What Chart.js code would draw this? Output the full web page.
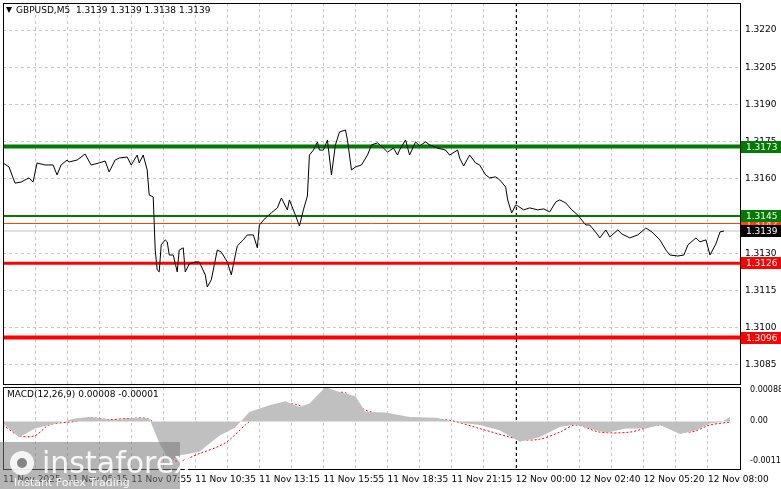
<!DOCTYPE html>
<html><head><meta charset="utf-8">
<script src="https://cdn.jsdelivr.net/npm/chart.js@4"></script>
<style>
body{margin:0;background:#fff;width:781px;height:489px;overflow:hidden;position:relative}
canvas{position:absolute;left:0}
#main{top:0}#macd{top:385px}
</style></head><body>
<canvas id="main" width="781" height="385"></canvas>
<canvas id="macd" width="781" height="104"></canvas>
<script>
// price line, M5 bar index -> close
const priceBars = [0,3,6,9,13,15,17,21,25,27,29,32,33,37,41,44,48,51,53,56,58,62,64,67,68,70,72,73,75,76,77,78,79,81,82,83,85,87,88,90,91,93,96,98,101,102,104,107,109,112,114,116,117,120,122,125,127,128,131,134,137,139,142,143,146,148,150,152,153,155,157,158,160,162,164,166,168,171,172,174,176,179,182,184,187,190,192,
  195,197,198,201,203,206,208,211,213,217,221,223,227,228,230,233,236,238,241,243,246,248,251,252,254,256,257,260,263,267,270,273,276,278,281,284,287,291,293,297,298,301,303,307,309,313,317,321,324,328,331,333,337,340,342,346,348,351,353,356,358,360];
const closes = [1.31664,1.31648,1.31583,1.31587,1.31604,1.31587,1.31664,1.31656,1.31656,1.31616,1.31656,1.31676,1.31668,1.31676,1.31700,1.31656,1.31664,1.31672,1.31628,1.31676,1.31684,1.31688,1.31656,1.31696,1.31664,1.31696,1.31636,1.31535,1.31527,1.31313,1.31233,1.31225,1.31334,1.31354,1.31346,1.31293,1.31293,1.31225,1.31313,1.31322,1.31225,1.31257,1.31265,1.31265,1.31213,1.31164,1.31193,1.31313,1.31305,1.31265,1.31213,1.31293,1.31330,1.31354,1.31374,1.31374,1.31322,1.31414,1.31442,1.31463,1.31483,1.31523,1.31475,1.31515,1.31454,1.31410,1.31475,1.31531,1.31696,1.31716,1.31749,1.31716,1.31716,1.31757,1.31616,1.31737,1.31789,1.31797,1.31757,1.31636,1.31648,1.31656,1.31696,1.31737,1.31745,1.31724,1.31708,
  1.31724,1.31696,1.31716,1.31757,1.31696,1.31749,1.31733,1.31749,1.31737,1.31724,1.31716,1.31696,1.31716,1.31684,1.31652,1.31696,1.31664,1.31656,1.31616,1.31604,1.31608,1.31596,1.31567,1.31515,1.31463,1.31495,1.31491,1.31475,1.31483,1.31475,1.31479,1.31467,1.31507,1.31515,1.31503,1.31475,1.31454,1.31414,1.31414,1.31374,1.31362,1.31394,1.31366,1.31394,1.31378,1.31362,1.31374,1.31402,1.31386,1.31354,1.31313,1.31293,1.31289,1.31293,1.31334,1.31362,1.31346,1.31354,1.31293,1.31338,1.31386,1.3139];

// MACD(12,26,9)
const histBars = [0,8,16,23,36,43,56,66,73,78,83,88,98,108,116,123,133,141,148,153,161,168,176,181,191,203,216,226,238,248,258,268,278,286,293,301,311,321,328,338,346,353,359,363];
const histVals = [-0.00005,-0.00044,-0.0002,-0.0001,0.00008,0.00012,0.00003,0.0001,0.00008,-0.0006,-0.0011,-0.00095,-0.00085,-0.0004,-0.00017,0.00026,0.00045,0.00056,0.0004,0.0005,0.00096,0.00082,0.0007,0.00026,0.00025,0.00012,0.0001,-0.00002,-0.0001,-0.00025,-0.00057,-0.00044,-0.00016,-0.00009,-0.0002,-0.00032,-0.0002,-0.0002,-0.0001,-0.00035,-0.00025,-0.00006,-0.00002,0.00012];
const sigBars = [0,8,16,23,36,43,53,63,73,78,86,98,111,121,128,138,146,153,161,171,178,188,203,223,238,258,268,278,286,298,313,328,343,353,363];
const sigVals = [-0.0001,-0.0004,-0.0004,-0.0001,0,0.0001,0.00005,0.00008,0.00006,-0.0003,-0.0011,-0.0009,-0.0006,-0.0001,0.0002,0.00045,0.00048,0.00035,0.0007,0.0008,0.0004,0.0002,0.0001,0.00003,-0.0002,-0.0005,-0.0005,-0.0003,-0.0001,-0.0003,-0.0003,-0.0001,-0.0003,-0.0001,-0.00002];

const priceTicks = [1.3085,1.3100,1.3115,1.3130,1.3145,1.3160,1.3175,1.3190,1.3205,1.3220];
const macdTicks = [-0.0011,0,0.00088];
const timeLabels = ['11 Nov 2025','11 Nov 05:15','11 Nov 07:55','11 Nov 10:35','11 Nov 13:15','11 Nov 15:55','11 Nov 18:35','11 Nov 21:15','12 Nov 00:00','12 Nov 02:40','12 Nov 05:20','12 Nov 08:00'];
// level, colour, line width, label colour
const levels = [
  [1.3142,'#ff4500',1,'#ff4500'],
  [1.3173,'#007a00',4,'#007a00'],
  [1.3145,'#007a00',2,'#007a00'],
  [1.3139,'#c0c0c0',1,'#000000'],
  [1.3126,'#ff0000',3,'#ff0000'],
  [1.3096,'#ff0000',4,'#ff0000']
];
const dayBreak = 256;

const FONT = '9px "DejaVu Sans"';
const gridCommon = {color:'#c6c6c6', drawTicks:false};
const noPad = s=>{s.width=41; s.paddingTop=0; s.paddingBottom=0};
const xBase = {type:'linear', min:0, max:368, afterFit:s=>{s.height=0; s.paddingLeft=0; s.paddingRight=0}, ticks:{display:false, stepSize:16},
  grid:gridCommon, border:{display:false, dash:[3,3]}};

const framePlugin = {
  id:'frame',
  beforeDatasetsDraw(c){
    const {ctx, chartArea:a, scales:{x}} = c;
    ctx.save();
    ctx.strokeStyle='#000'; ctx.setLineDash([3,3]); ctx.lineWidth=1;
    const px = Math.round(x.getPixelForValue(dayBreak))+0.5;
    ctx.beginPath(); ctx.moveTo(px,a.top); ctx.lineTo(px,a.bottom); ctx.stroke();
    ctx.restore();
  },
  afterDraw(c){
    const {ctx, chartArea:a} = c;
    ctx.save(); ctx.strokeStyle='#000'; ctx.lineWidth=1;
    ctx.strokeRect(a.left+0.5,a.top+0.5,a.width,a.height);
    ctx.restore();
  }
};

const levelPlugin = {
  id:'levels',
  beforeDatasetsDraw(c){
    const {ctx, chartArea:a, scales:{y}} = c;
    ctx.save();
    levels.forEach(([v,col,w])=>{
      const py = y.getPixelForValue(v);
      ctx.strokeStyle=col; ctx.lineWidth=w;
      ctx.beginPath(); ctx.moveTo(a.left,py); ctx.lineTo(a.right,py); ctx.stroke();
    });
    ctx.restore();
  },
  afterDraw(c){
    const {ctx, chartArea:a, scales:{y}} = c;
    ctx.save();
    ctx.font=FONT; ctx.textBaseline='middle';
    levels.forEach(([v,col,w,lab])=>{
      const py = Math.round(y.getPixelForValue(v));
      ctx.fillStyle=lab; ctx.fillRect(a.right+1,py-6,40,12);
      ctx.fillStyle='#fff'; ctx.fillText(v.toFixed(4),a.right+6,py+0.5);
    });
    ctx.fillStyle='#000';
    ctx.beginPath(); ctx.moveTo(6,7); ctx.lineTo(12,7); ctx.lineTo(9,13); ctx.closePath(); ctx.fill();
    ctx.fillText('GBPUSD,M5  1.3139 1.3139 1.3138 1.3139',16,11);
    ctx.restore();
  }
};

new Chart(document.getElementById('main'), {
  type:'line',
  data:{datasets:[{data:priceBars.map((b,i)=>({x:b,y:closes[i]})), borderColor:'#000', borderWidth:1, pointRadius:0, tension:0}]},
  options:{
    responsive:false, animation:false, events:[],
    layout:{padding:{left:3,top:3,right:0,bottom:1}},
    plugins:{legend:{display:false}, tooltip:{enabled:false}},
    scales:{
      x:xBase,
      y:{position:'right', min:1.30773, max:1.32309, afterFit:noPad,
        afterBuildTicks:s=>{s.ticks=priceTicks.map(v=>({value:v}))},
        ticks:{color:'#000', font:{family:'DejaVu Sans', size:9}, padding:5, callback:v=>v.toFixed(4)},
        grid:gridCommon, border:{display:false, dash:[3,3]}}
    }
  },
  plugins:[framePlugin, levelPlugin]
});

const watermark = {
  id:'wm',
  afterDraw(c){
    const {ctx} = c;
    ctx.save();
    ctx.fillStyle='rgba(120,120,120,0.55)';
    ctx.fillRect(0,57,180,47);
    ctx.fillStyle='rgba(255,255,255,0.85)';
    ctx.beginPath(); ctx.arc(22,78,12,0,Math.PI*2); ctx.fill();
    ctx.fillStyle='rgba(120,120,120,0.9)';
    ctx.beginPath(); ctx.arc(22,78,5,0,Math.PI*2); ctx.fill();
    ctx.font='30px "DejaVu Sans"'; ctx.textBaseline='alphabetic';
    ctx.fillStyle='rgba(255,255,255,0.9)';
    ctx.fillText('instaforex',42,88);
    ctx.font='11px "DejaVu Sans"';
    ctx.fillText('Instant Forex Trading',14,101);
    ctx.font=FONT; ctx.fillStyle='#000';
    ctx.fillText('MACD(12,26,9) 0.00008 -0.00001',7,12);
    ctx.restore();
  }
};

new Chart(document.getElementById('macd'), {
  type:'line',
  data:{datasets:[
    {data:histBars.map((b,i)=>({x:b,y:histVals[i]})), borderWidth:0, borderColor:'rgba(0,0,0,0)', backgroundColor:'#c0c0c0', fill:'origin', pointRadius:0, tension:0},
    {data:sigBars.map((b,i)=>({x:b,y:sigVals[i]})), borderColor:'#ff0000', borderWidth:1, borderDash:[2,2], pointRadius:0, tension:0.3, fill:false}
  ]},
  options:{
    responsive:false, animation:false, events:[],
    layout:{padding:{left:3,top:2,right:0,bottom:0}},
    plugins:{legend:{display:false}, tooltip:{enabled:false}},
    scales:{
      x:{...xBase, afterFit:s=>{s.height=20; s.paddingLeft=0; s.paddingRight=0},
        afterBuildTicks:s=>{s.ticks=[];for(let v=0;v<=368;v+=16)s.ticks.push({value:v})},
        ticks:{display:true, align:'start', maxRotation:0, autoSkip:false, color:'#000', padding:5,
          font:{family:'DejaVu Sans', size:9}, callback:v=>v%32===0?timeLabels[v/32]:''}},
      y:{position:'right', min:-0.00133, max:0.00096, afterFit:noPad,
        afterBuildTicks:s=>{s.ticks=macdTicks.map(v=>({value:v}))},
        ticks:{color:'#000', font:{family:'DejaVu Sans', size:8}, padding:2,
          callback:v=>v===0?'0.00':(v<0?'-0.0011':'0.00088')},
        grid:{display:false}, border:{display:false}}
    }
  },
  plugins:[framePlugin, watermark]
});
</script>
</body></html>
